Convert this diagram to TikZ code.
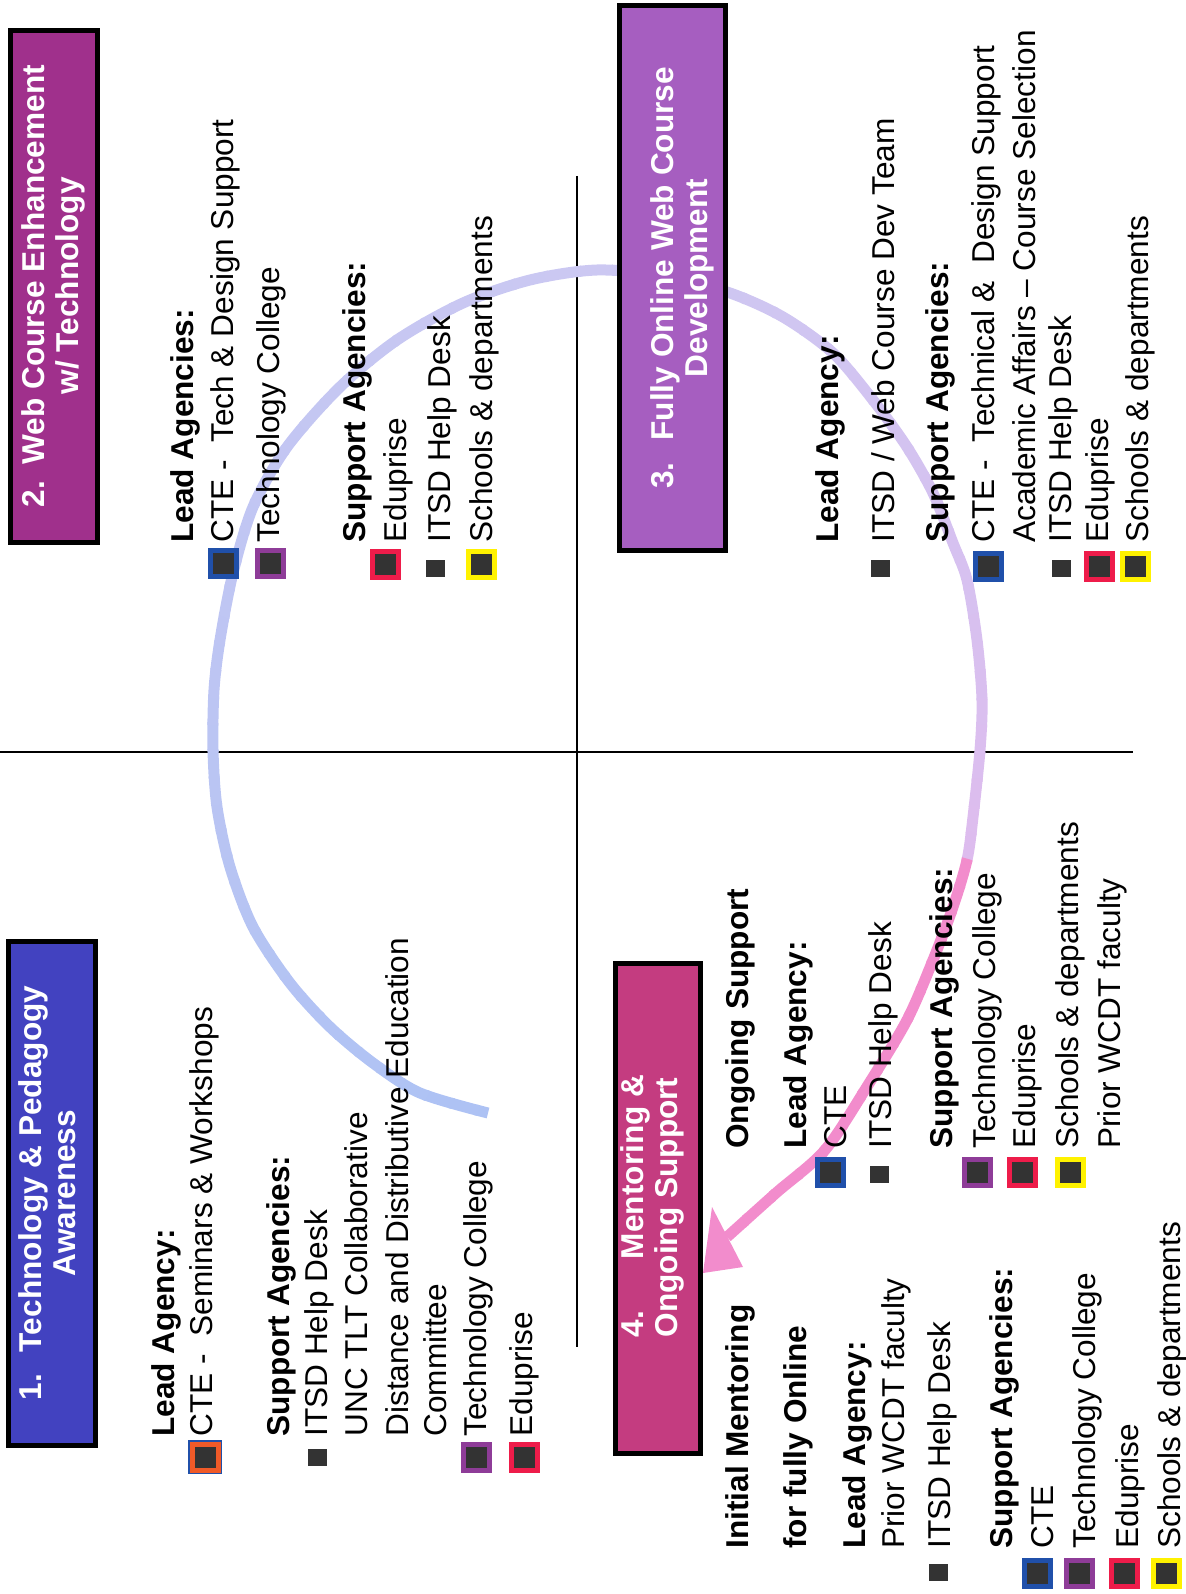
\documentclass[tikz,border=0pt]{standalone}
\usepackage{fontspec}
\setmainfont{Liberation Sans}
\usetikzlibrary{positioning}

\definecolor{panelblue}{RGB}{66,66,192}
\definecolor{panelplum}{RGB}{160,48,140}
\definecolor{panelviolet}{RGB}{166,94,192}
\definecolor{panelrose}{RGB}{196,60,128}
\definecolor{ctered}{RGB}{240,90,40}
\definecolor{cteblue}{RGB}{32,80,170}
\definecolor{techpurple}{RGB}{142,60,152}
\definecolor{edured}{RGB}{238,28,74}
\definecolor{schoolyellow}{RGB}{255,242,0}
\definecolor{tagfill}{RGB}{51,51,51}
\definecolor{ringA}{RGB}{172,194,244}
\definecolor{ringB}{RGB}{204,200,242}
\definecolor{ringC}{RGB}{222,188,238}
\definecolor{ringD}{RGB}{242,140,204}

\tikzset{
        panel/.style={
                draw=black,
                line width=2.5pt,
                fill=#1,
                rotate=90,
                inner sep=0pt
            },
        paneltitle/.style={
                rotate=90,
                align=center,
                text=white,
                inner sep=0pt,
                font=\bfseries\fontsize{15.8}{17}\selectfont
            },
        entry/.style={
                rotate=90,
                anchor=base west,
                inner sep=0pt,
                font=\fontsize{15.8}{19}\selectfont
            },
        heading/.style={
                entry,
                font=\bfseries\fontsize{15.8}{19}\selectfont
            },
        tag/.style={
                draw=#1,
                line width=2.5pt,
                fill=tagfill,
                inner sep=0pt,
                minimum size=13pt
            },
        dot/.style={
                fill=tagfill,
                inner sep=0pt,
                minimum width=9.5pt,
                minimum height=8.5pt
            },
        ring/.style={line width=5.5pt},
        divider/.style={line width=1pt},
}

\begin{document}
\begin{tikzpicture}[x=0.5pt, y=-0.5pt]
  \useasboundingbox (0,0) rectangle (1185,1594);
  % Dividers
  \draw[divider] (0,752) -- (1133,752);
  \draw[divider] (577,176) -- (577,1347);

  % Cycle arrow
  \coordinate (ringcentre) at (595,752);
  \coordinate (ringtip) at (703,1273);
  \path[save path=\ringline] plot[smooth] coordinates {
      (488,1113) (420,1093) (373,1063) (330,1027) (290,983) (253,927) (230,867)
      (217,807) (213,750) (214,690) (220,640) (233,573) (253,507) (287,447)
      (340,387) (397,340) (463,303) (530,280) (597,270) (665,276) (730,293)
      (783,317) (833,353) (873,400) (907,447) (933,493) (953,543) (967,580)
      (977,640) (982,700) (980,750) (973,817) (967,860) (953,907) (933,960)
      (907,1020) (868,1085) (825,1150) (776,1193) (727,1237)};
  \foreach \a in {100,104,...,432}{
      \ifnum\a<270
        \pgfmathsetmacro\mix{(\a-100)/1.7}\colorlet{ringcol}{ringB!\mix!ringA}
      \else\ifnum\a<376
        \pgfmathsetmacro\mix{(\a-270)/1.06}\colorlet{ringcol}{ringC!\mix!ringB}
      \else
        \colorlet{ringcol}{ringD}
      \fi\fi
      \begin{scope}
        \clip (ringcentre) -- +(\a:1600) -- +({\a+4.4}:1600) -- cycle;
        \draw[ring, draw=ringcol, use path=\ringline];
      \end{scope}
    }
  \fill[ringD] (ringtip) -- (712,1207) -- (743,1267) -- cycle;

  % Panels
  \node[panel=panelblue, minimum width=252pt, minimum height=43.5pt] (panel1) at (52,1193.5) {};
  \node[panel=panelplum, minimum width=256pt, minimum height=43.5pt] (panel2) at (54,286.5) {};
  \node[panel=panelviolet, minimum width=272.5pt, minimum height=53pt] (panel3) at (672.5,278) {};
  \node[panel=panelrose, minimum width=245pt, minimum height=42.5pt] (panel4) at (658,1208.5) {};
  \node[paneltitle] (title1) at (47,1193) {1.\hspace{11pt}Technology \& Pedagogy\\Awareness};
  \node[paneltitle] (title2) at (53,286) {2.\hspace{8pt}Web Course Enhancement\\w/ Technology};
  \node[paneltitle] (title3) at (682,278) {3.\hspace{11pt}Fully Online Web Course\\Development};
  \node[paneltitle, align=left] (title4) at (652,1206) {4.\hspace{26pt}Mentoring \&\\Ongoing Support};

  % Quadrant 1
  \node[heading] (q1lead) at (174,1437) {Lead Agency:};
  \node[entry] (q1cte) at (212,1437) {CTE -\ \ Seminars \& Workshops};
  \node[heading] (q1sup) at (289,1437) {Support Agencies:};
  \node[entry] (q1itsd) at (327,1437) {ITSD Help Desk};
  \node[entry] (q1unc) at (367,1437) {UNC TLT Collaborative};
  \node[entry] (q1dist) at (408,1437) {Distance and Distributive Education};
  \node[entry] (q1comm) at (446,1437) {Committee};
  \node[entry] (q1tech) at (486,1437) {Technology College};
  \node[entry] (q1edu) at (532,1437) {Eduprise};
  \node[tag=ctered, preaction={draw=cteblue, line width=3.6pt}] (q1cte-tag) at ([shift={(-7,20)}]q1cte.base west) {};
  \node[dot] (q1itsd-tag) at ([shift={(-10,20)}]q1itsd.base west) {};
  \node[tag=techpurple] (q1tech-tag) at ([shift={(-10,20)}]q1tech.base west) {};
  \node[tag=edured] (q1edu-tag) at ([shift={(-8,20)}]q1edu.base west) {};

  % Quadrant 2
  \node[heading] (q2lead) at (193,543) {Lead Agencies:};
  \node[entry] (q2cte) at (233,543) {CTE -\ \ Tech \& Design Support};
  \node[entry] (q2tech) at (279,543) {Technology College};
  \node[heading] (q2sup) at (365,543) {Support Agencies:};
  \node[entry] (q2edu) at (406,543) {Eduprise};
  \node[entry] (q2itsd) at (450,543) {ITSD Help Desk};
  \node[entry] (q2sch) at (492,543) {Schools \& departments};
  \node[tag=cteblue] (q2cte-tag) at ([shift={(-10,20)}]q2cte.base west) {};
  \node[tag=techpurple] (q2tech-tag) at ([shift={(-9,20)}]q2tech.base west) {};
  \node[tag=edured] (q2edu-tag) at ([shift={(-21,21)}]q2edu.base west) {};
  \node[dot] (q2itsd-tag) at ([shift={(-15,25)}]q2itsd.base west) {};
  \node[tag=schoolyellow] (q2sch-tag) at ([shift={(-11,21)}]q2sch.base west) {};

  % Quadrant 3
  \node[heading] (q3lead) at (838,543) {Lead Agency:};
  \node[entry] (q3itsd) at (894,543) {ITSD / Web Course Dev Team};
  \node[heading] (q3sup) at (948,543) {Support Agencies:};
  \node[entry] (q3cte) at (994,543) {CTE -\ \ Technical \&\ \ Design Support};
  \node[entry] (q3acad) at (1035,543) {Academic Affairs – Course Selection};
  \node[entry] (q3help) at (1071,543) {ITSD Help Desk};
  \node[entry] (q3edu) at (1108,543) {Eduprise};
  \node[entry] (q3sch) at (1148,543) {Schools \& departments};
  \node[dot] (q3itsd-tag) at ([shift={(-14,25)}]q3itsd.base west) {};
  \node[tag=cteblue] (q3cte-tag) at ([shift={(-6,23)}]q3cte.base west) {};
  \node[dot] (q3help-tag) at ([shift={(-10,25)}]q3help.base west) {};
  \node[tag=edured] (q3edu-tag) at ([shift={(-9,23)}]q3edu.base west) {};
  \node[tag=schoolyellow] (q3sch-tag) at ([shift={(-13,23)}]q3sch.base west) {};

  % Quadrant 4, ongoing support
  \node[heading] (q4ongo) at (748,1149) {Ongoing Support};
  \node[heading] (q4lead) at (806,1149) {Lead Agency:};
  \node[entry] (q4cte) at (846,1149) {CTE};
  \node[entry] (q4itsd) at (891,1149) {ITSD Help Desk};
  \node[heading] (q4sup) at (952,1149) {Support Agencies:};
  \node[entry] (q4tech) at (995,1149) {Technology College};
  \node[entry] (q4edu) at (1035,1149) {Eduprise};
  \node[entry] (q4sch) at (1078,1149) {Schools \& departments};
  \node[entry] (q4prior) at (1120,1149) {Prior WCDT faculty};
  \node[tag=cteblue] (q4cte-tag) at ([shift={(-16,23)}]q4cte.base west) {};
  \node[dot] (q4itsd-tag) at ([shift={(-12,25)}]q4itsd.base west) {};
  \node[tag=techpurple] (q4tech-tag) at ([shift={(-18,23)}]q4tech.base west) {};
  \node[tag=edured] (q4edu-tag) at ([shift={(-13,23)}]q4edu.base west) {};
  \node[tag=schoolyellow] (q4sch-tag) at ([shift={(-8,23)}]q4sch.base west) {};

  % Quadrant 4, initial mentoring
  \node[heading] (q4init) at (748,1549) {Initial Mentoring};
  \node[heading] (q4fully) at (806,1549) {for fully Online};
  \node[heading] (q4lead2) at (865,1549) {Lead Agency:};
  \node[entry] (q4prior2) at (904,1549) {Prior WCDT faculty};
  \node[entry] (q4itsd2) at (950,1549) {ITSD Help Desk};
  \node[heading] (q4sup2) at (1012,1549) {Support Agencies:};
  \node[entry] (q4cte2) at (1053,1549) {CTE};
  \node[entry] (q4tech2) at (1095,1549) {Technology College};
  \node[entry] (q4edu2) at (1138,1549) {Eduprise};
  \node[entry] (q4sch2) at (1180,1549) {Schools \& departments};
  \node[dot] (q4itsd2-tag) at ([shift={(-12,23)}]q4itsd2.base west) {};
  \node[tag=cteblue] (q4cte2-tag) at ([shift={(-16,24)}]q4cte2.base west) {};
  \node[tag=techpurple] (q4tech2-tag) at ([shift={(-16,24)}]q4tech2.base west) {};
  \node[tag=edured] (q4edu2-tag) at ([shift={(-14,24)}]q4edu2.base west) {};
  \node[tag=schoolyellow] (q4sch2-tag) at ([shift={(-14,24)}]q4sch2.base west) {};
\end{tikzpicture}
\end{document}
